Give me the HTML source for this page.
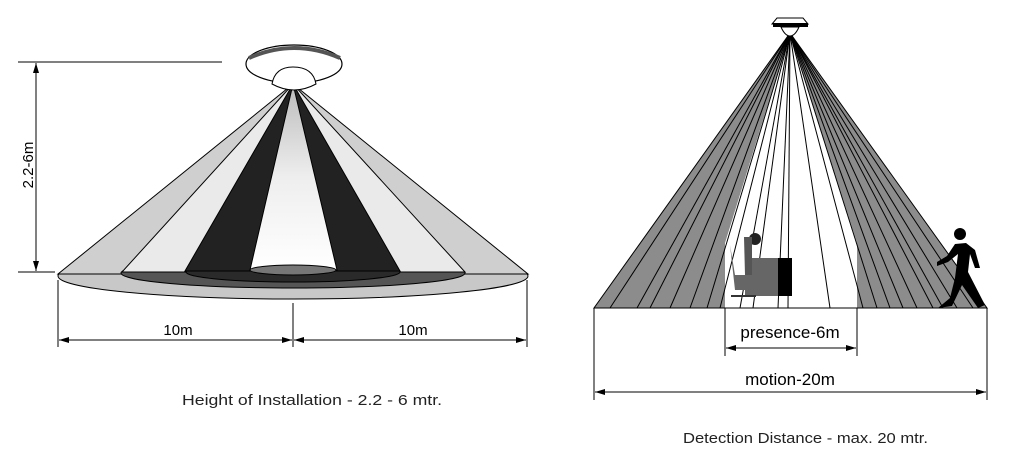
<!DOCTYPE html>
<html><head><meta charset="utf-8"><style>
html,body{margin:0;padding:0;background:#fff;}
svg{display:block;}
text{font-family:"Liberation Sans",Arial,sans-serif;}
</style></head><body>
<svg width="1017" height="467" viewBox="0 0 1017 467" xmlns="http://www.w3.org/2000/svg">
<defs>
<marker id="a" viewBox="0 0 10 6" refX="10" refY="3" markerWidth="10" markerHeight="6" orient="auto-start-reverse" markerUnits="userSpaceOnUse"><path d="M0,0 L10,3 L0,6 z" fill="#000"/></marker>
<linearGradient id="g1" x1="0" y1="0" x2="0" y2="1"><stop offset="0" stop-color="#bbb"/><stop offset="0.5" stop-color="#eee"/><stop offset="1" stop-color="#fff"/></linearGradient>
</defs>
<!-- LEFT -->
<ellipse cx="293" cy="276" rx="235" ry="23" fill="#c8c8c8" stroke="#000" stroke-width="1"/>
<polygon points="293,84 58,274 528,274" fill="#cfcfcf" stroke="#000" stroke-width="1"/>
<ellipse cx="293" cy="273" rx="172" ry="15" fill="#555" stroke="#000" stroke-width="1"/>
<polygon points="293,84 122,272 465,272" fill="#eaeaea" stroke="#000" stroke-width="1"/>
<ellipse cx="293" cy="272" rx="107" ry="10" fill="#2a2a2a" stroke="#000" stroke-width="1"/>
<polygon points="293,84 185,271 400,271" fill="#222" stroke="#000" stroke-width="1"/>
<polygon points="293,84 250,270 337,270" fill="url(#g1)" stroke="#000" stroke-width="1"/>
<ellipse cx="293" cy="270" rx="43" ry="5" fill="#777" stroke="#000" stroke-width="1"/>
<ellipse cx="294" cy="64" rx="48" ry="19" fill="#fff" stroke="#000" stroke-width="1.2"/>
<path d="M249,58 Q294,38 340,58" fill="none" stroke="#555" stroke-width="4"/>
<path d="M272,84 Q275,67 293,67 Q313,67 316,84 Q294,96 272,84z" fill="#fff" stroke="#000" stroke-width="1"/>
<!-- left dims -->
<line x1="18" y1="62" x2="222" y2="62" stroke="#000"/>
<line x1="18" y1="272" x2="55" y2="272" stroke="#000"/>
<line x1="36" y1="63" x2="36" y2="271" stroke="#000" marker-start="url(#a)" marker-end="url(#a)"/>
<text transform="translate(33,165) rotate(-90)" font-size="15" text-anchor="middle">2.2-6m</text>
<line x1="58" y1="280" x2="58" y2="347" stroke="#000"/>
<line x1="527" y1="280" x2="527" y2="347" stroke="#000"/>
<line x1="293" y1="303" x2="293" y2="347" stroke="#000"/>
<line x1="59" y1="340" x2="292" y2="340" stroke="#000" marker-start="url(#a)" marker-end="url(#a)"/>
<line x1="294" y1="340" x2="526" y2="340" stroke="#000" marker-start="url(#a)" marker-end="url(#a)"/>
<text x="178" y="335" font-size="15" text-anchor="middle">10m</text>
<text x="413" y="335" font-size="15" text-anchor="middle">10m</text>
<text x="182" y="405" font-size="15" textLength="260" lengthAdjust="spacingAndGlyphs" fill="#222">Height of Installation - 2.2 - 6 mtr.</text>
<!-- RIGHT -->
<polygon points="790,33 594,308 987,308" fill="#8c8c8c" stroke="#000"/>
<polygon points="790,33 725,243 725,308 857,308 857,243" fill="#fff"/>
<g stroke="#000" stroke-width="1">
<line x1="790" y1="33" x2="610" y2="308"/><line x1="790" y1="33" x2="637" y2="308"/>
<line x1="790" y1="33" x2="650" y2="308"/><line x1="790" y1="33" x2="670" y2="308"/>
<line x1="790" y1="33" x2="690" y2="308"/><line x1="790" y1="33" x2="707" y2="308"/>
<line x1="790" y1="33" x2="720" y2="308"/><line x1="790" y1="33" x2="740" y2="308"/>
<line x1="790" y1="33" x2="753" y2="308"/><line x1="790" y1="33" x2="778" y2="308"/>
<line x1="790" y1="33" x2="788" y2="308"/><line x1="790" y1="33" x2="830" y2="308"/>
<line x1="790" y1="33" x2="863" y2="308"/><line x1="790" y1="33" x2="877" y2="308"/>
<line x1="790" y1="33" x2="890" y2="308"/><line x1="790" y1="33" x2="903" y2="308"/>
<line x1="790" y1="33" x2="917" y2="308"/><line x1="790" y1="33" x2="933" y2="308"/>
<line x1="790" y1="33" x2="943" y2="308"/><line x1="790" y1="33" x2="957" y2="308"/>
<line x1="790" y1="33" x2="973" y2="308"/>
</g>
<!-- sensor -->
<polygon points="777,18 803,18 808,24 772,24" fill="#fff" stroke="#000"/>
<rect x="773" y="23" width="35" height="4" fill="#000"/>
<path d="M781,27 L799,27 Q795,36 790,36 Q785,36 781,27z" fill="#fff" stroke="#000"/>
<!-- seated person/desk -->
<path d="M730,245 L735,275 L750,275 L750,258 L790,258 L790,296 L745,296 L745,290 L735,290z" fill="#666"/>
<circle cx="755" cy="239" r="6" fill="#222"/>
<path d="M744,237 L752,237 L752,275 L745,275z" fill="#555"/>
<rect x="778" y="258" width="14" height="38" fill="#000"/>
<rect x="731" y="295" width="25" height="2" fill="#333"/>
<!-- walking person -->
<circle cx="960" cy="234" r="6" fill="#000"/>
<path d="M955,244 L966,243 L975,250 L980,268 L975,268 L970,254 L968,272 L985,305 L978,308 L962,285 L952,306 L938,308 L950,298 L955,278 L958,254 L948,262 L937,266 L937,262 L947,256z" fill="#000"/>
<!-- right dims -->
<line x1="594" y1="308" x2="987" y2="308" stroke="#000"/>
<line x1="594" y1="308" x2="594" y2="400" stroke="#000"/>
<line x1="987" y1="308" x2="987" y2="400" stroke="#000"/>
<line x1="725" y1="308" x2="725" y2="356" stroke="#000"/>
<line x1="857" y1="308" x2="857" y2="356" stroke="#000"/>
<line x1="726" y1="348" x2="856" y2="348" stroke="#000" marker-start="url(#a)" marker-end="url(#a)"/>
<line x1="595" y1="392" x2="986" y2="392" stroke="#000" marker-start="url(#a)" marker-end="url(#a)"/>
<text x="790" y="338" font-size="17" text-anchor="middle">presence-6m</text>
<text x="790" y="385" font-size="17" text-anchor="middle">motion-20m</text>
<text x="683" y="443" font-size="15" textLength="245" lengthAdjust="spacingAndGlyphs" fill="#222">Detection Distance - max. 20 mtr.</text>
</svg>
</body></html>
